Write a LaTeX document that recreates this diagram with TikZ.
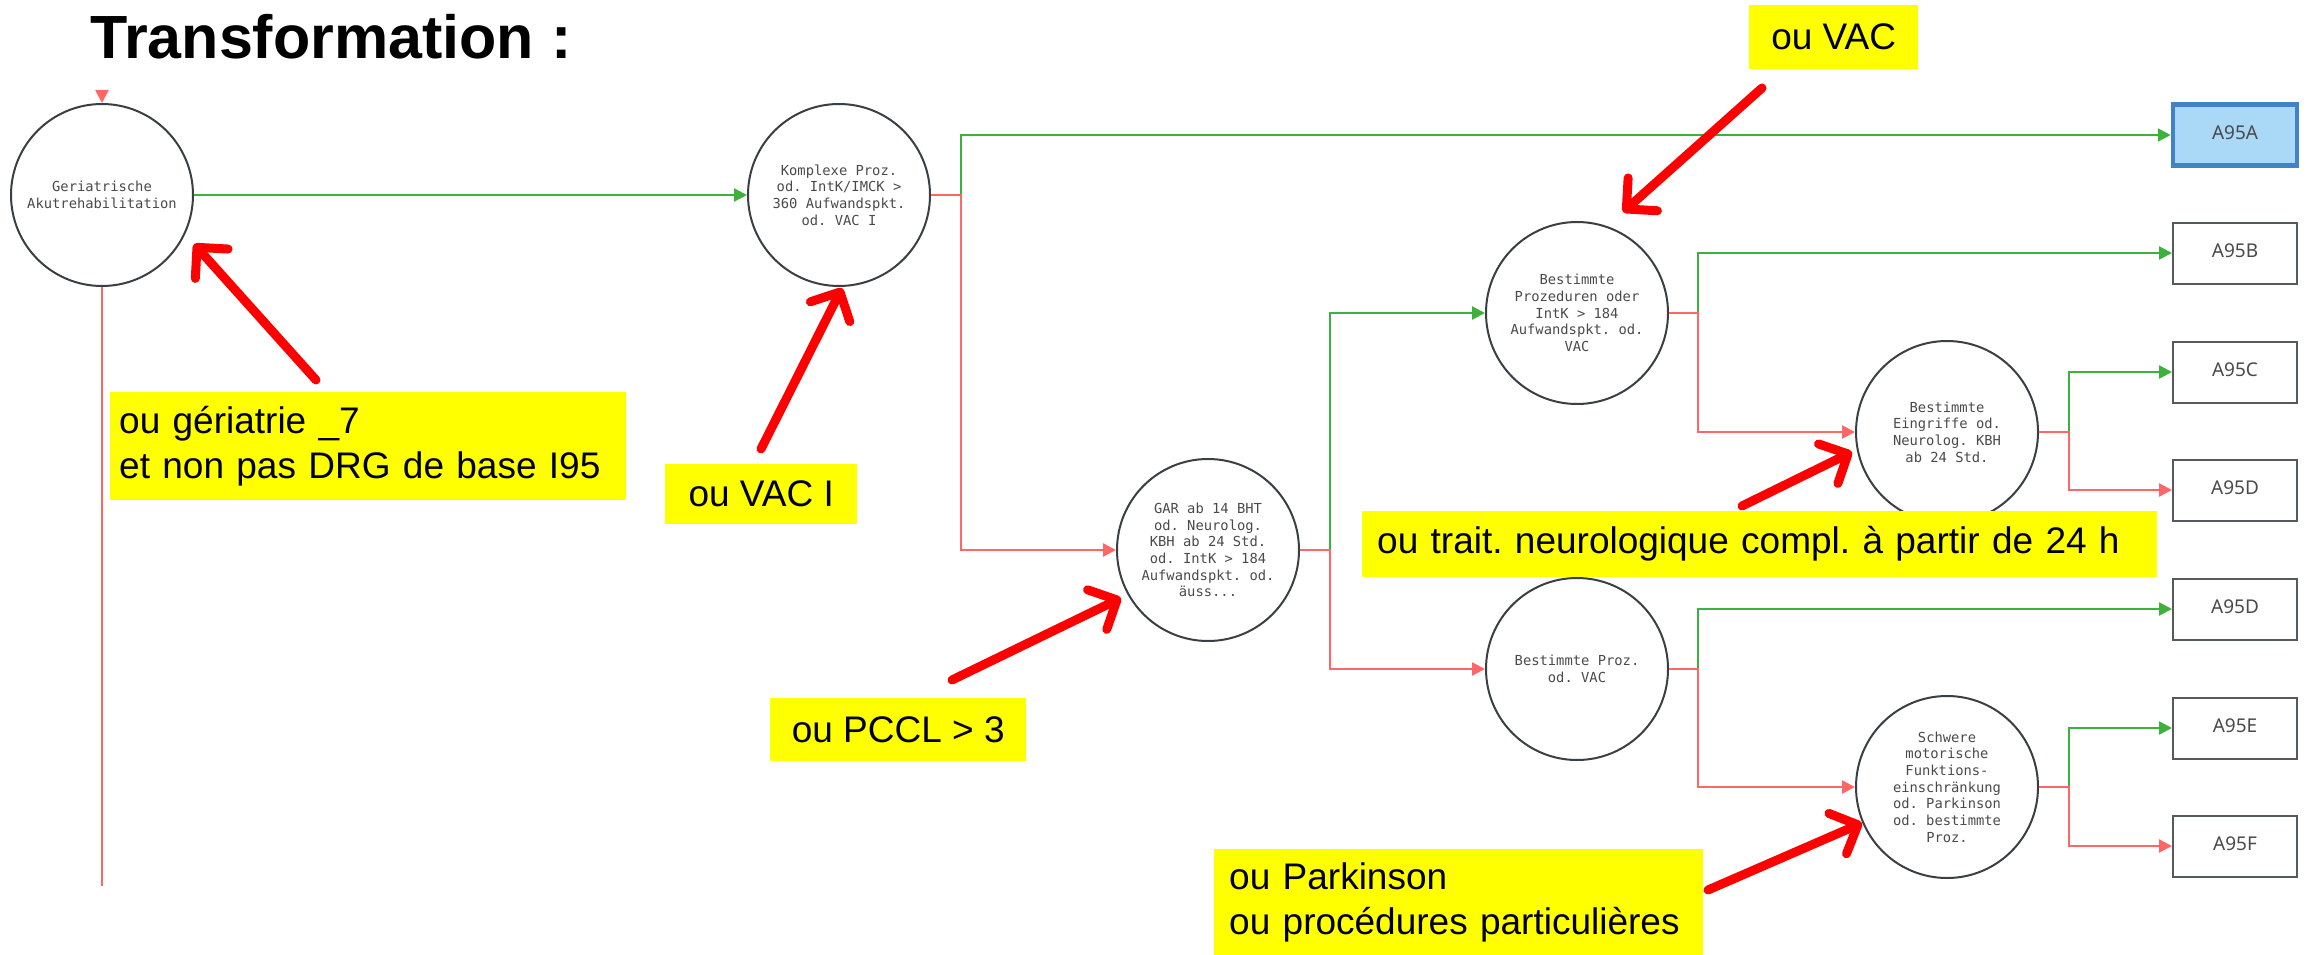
\documentclass[tikz,border=0pt]{standalone}
\usepackage{fontspec}
\setmainfont{Liberation Sans}
\newfontfamily\monof{DejaVu Sans Mono}
\newfontfamily\boxf{Noto Sans}
\usetikzlibrary{arrows.meta}
\definecolor{gline}{RGB}{60,178,60}
\definecolor{rline}{RGB}{255,102,102}
\definecolor{cborder}{RGB}{58,63,68}
\definecolor{ctext}{RGB}{74,74,74}
\definecolor{hlyellow}{RGB}{255,255,0}
\definecolor{selfill}{RGB}{170,216,247}
\definecolor{selborder}{RGB}{66,130,200}
\definecolor{lborder}{RGB}{85,90,95}
\frenchspacing
\begin{document}
\begin{tikzpicture}[x=1pt,y=-1pt,
  dec/.style={circle,draw=cborder,line width=2pt,minimum size=182pt,inner sep=0pt,
    align=center,text=ctext,font=\monof\fontsize{13.8}{16.7}\selectfont},
  leaf/.style={rectangle,draw=lborder,line width=2pt,minimum width=124pt,minimum height=61pt,
    inner sep=0pt,text=ctext,font=\boxf\fontsize{19}{22}\selectfont},
  selleaf/.style={leaf,draw=selborder,fill=selfill,line width=4.5pt},
  gc/.style={draw=gline,line width=2.4pt,-{Triangle[length=13pt,width=13pt]}},
  rc/.style={draw=rline,line width=2.4pt,-{Triangle[length=13pt,width=13pt]}},
  ybox/.style={fill=hlyellow,draw=none,anchor=north west,inner sep=0pt,
    font=\fontsize{37}{45}\selectfont,align=left},
  annot/.style={draw=red,line width=9pt,line cap=round,
    -{Straight Barb[length=22pt,width=44pt,round]}}
]
\useasboundingbox (0,0) rectangle (2308,955);

% title
\node[anchor=base west,inner sep=0pt,font=\bfseries\fontsize{61}{70}\selectfont] (title) at (90,59) {Transformation :};

% decision circles
\node[dec] (c1) at (102,195) {Geriatrische\\Akutrehabilitation};
\node[dec] (c2) at (839,195) {Komplexe Proz.\\od. IntK/IMCK >\\360 Aufwandspkt.\\od. VAC I};
\node[dec] (gar) at (1208,550) {GAR ab 14 BHT\\od. Neurolog.\\KBH ab 24 Std.\\od. IntK > 184\\Aufwandspkt. od.\\äuss...};
\node[dec] (bp) at (1577,313) {Bestimmte\\Prozeduren oder\\IntK > 184\\Aufwandspkt. od.\\VAC};
\node[dec] (be) at (1947,432) {Bestimmte\\Eingriffe od.\\Neurolog. KBH\\ab 24 Std.};
\node[dec] (bpv) at (1577,669) {Bestimmte Proz.\\od. VAC};
\node[dec] (sm) at (1947,787) {Schwere\\motorische\\Funktions-\\einschränkung\\od. Parkinson\\od. bestimmte\\Proz.};

% leaves
\node[selleaf] (a95a) at (2235,135) {\raisebox{5pt}{A95A}};
\node[leaf] (a95b) at (2235,253) {\raisebox{5pt}{A95B}};
\node[leaf] (a95c) at (2235,372) {\raisebox{5pt}{A95C}};
\node[leaf] (a95d) at (2235,490) {\raisebox{5pt}{A95D}};
\node[leaf] (a95d2) at (2235,609) {\raisebox{5pt}{A95D}};
\node[leaf] (a95e) at (2235,728) {\raisebox{5pt}{A95E}};
\node[leaf] (a95f) at (2235,846) {\raisebox{5pt}{A95F}};

% input and output of first node
\coordinate (in1) at (102,90);
\coordinate (out1) at (102,886);
\draw[rc] (in1) -- (c1.north);
\draw[draw=rline,line width=2.4pt] (c1.south) -- (out1);

% connectors
\draw[gc] (c1.east) -- (c2.west);
\draw[gc] (c2.east) -- ++(30,0) |- (a95a.west);
\draw[rc] (c2.east) -- ++(30,0) |- (gar.west);
\draw[gc] (gar.east) -- ++(30,0) |- (bp.west);
\draw[rc] (gar.east) -- ++(30,0) |- (bpv.west);
\draw[gc] (bp.east) -- ++(29,0) |- (a95b.west);
\draw[rc] (bp.east) -- ++(29,0) |- (be.west);
\draw[gc] (be.east) -- ++(30,0) |- (a95c.west);
\draw[rc] (be.east) -- ++(30,0) |- (a95d.west);
\draw[gc] (bpv.east) -- ++(29,0) |- (a95d2.west);
\draw[rc] (bpv.east) -- ++(29,0) |- (sm.west);
\draw[gc] (sm.east) -- ++(30,0) |- (a95e.west);
\draw[rc] (sm.east) -- ++(30,0) |- (a95f.west);

% yellow annotations
\node[ybox,inner xsep=9pt,text width=498pt,minimum height=108pt] (y1) at (110,392)
  {\raisebox{-5pt}{ou gériatrie \_7}\\\raisebox{-5pt}{et non pas DRG de base I95}};
\node[ybox,minimum width=192pt,minimum height=60pt] (y2) at (665,464) {ou VAC I};
\node[ybox,minimum width=256pt,minimum height=63pt] (y3) at (770,698) {ou PCCL > 3};
\node[ybox,minimum width=169pt,minimum height=64pt] (y4) at (1749,5) {ou VAC};
\node[ybox,inner xsep=15pt,text width=765pt,minimum height=66pt] (y5) at (1362,511)
  {ou trait. neurologique compl. à partir de 24 h};
\node[ybox,inner xsep=15pt,text width=459pt,minimum height=106pt] (y6) at (1214,849)
  {ou Parkinson\\ou procédures particulières};

% red annotation arrows
\coordinate (t1) at (316,380); \coordinate (h1) at (194,244);
\coordinate (t2) at (761,449); \coordinate (h2) at (842,288);
\coordinate (t3) at (952,680); \coordinate (h3) at (1121,598);
\coordinate (t4) at (1762,88); \coordinate (h4) at (1623,212);
\coordinate (t5) at (1742,506); \coordinate (h5) at (1852,452);
\coordinate (t6) at (1708,890); \coordinate (h6) at (1862,823);
\draw[annot] (t1) -- (h1);
\draw[annot] (t2) -- (h2);
\draw[annot] (t3) -- (h3);
\draw[annot] (t4) -- (h4);
\draw[annot] (t5) -- (h5);
\draw[annot] (t6) -- (h6);
\end{tikzpicture}
\end{document}
